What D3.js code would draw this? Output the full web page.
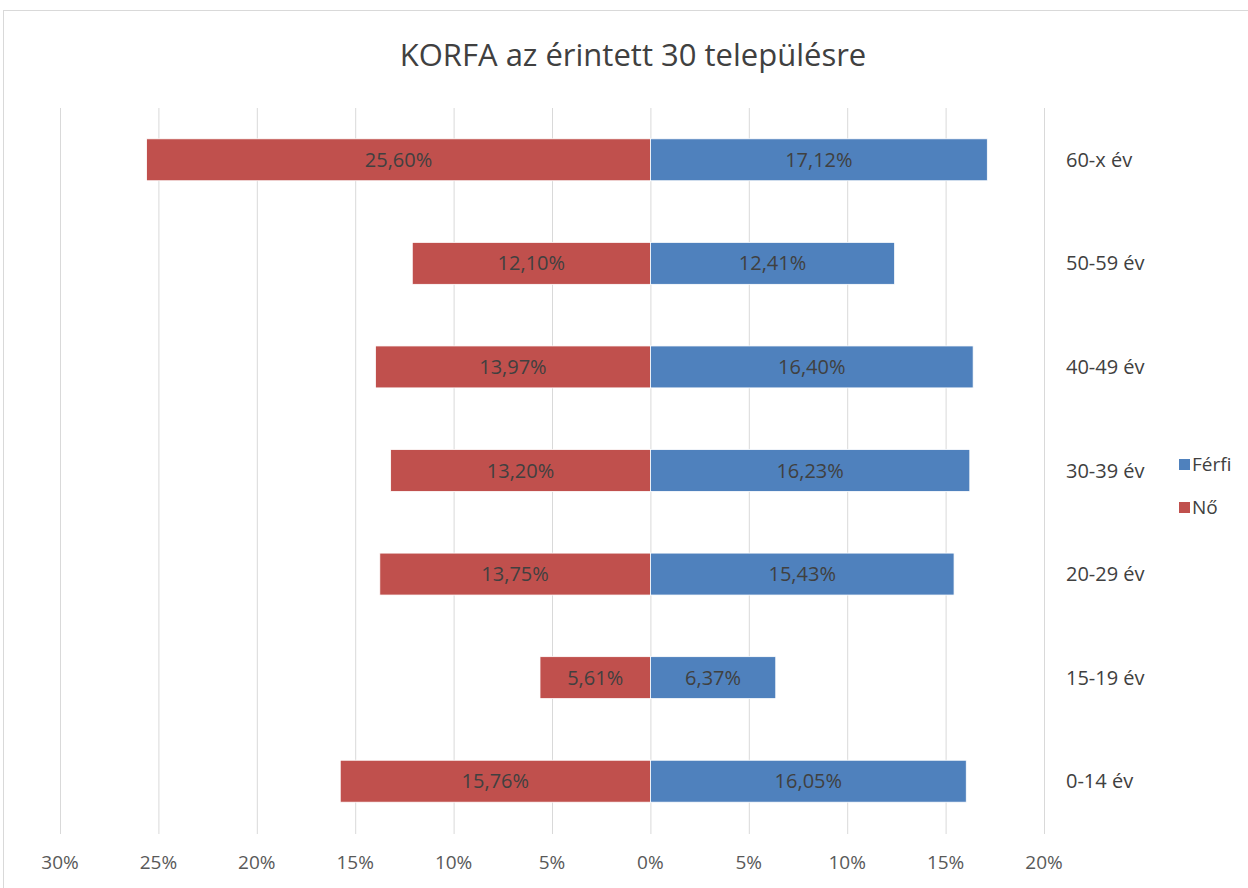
<!DOCTYPE html>
<html>
<head>
<meta charset="utf-8">
<script src="https://cdn.jsdelivr.net/npm/d3@7"></script>
<style>
    body { margin: 0; background: #fff; }
    svg { display: block; font-family: "Open Sans", "Noto Sans", sans-serif; }
</style>
</head>
<body>
<div id="chart"></div>
<script>
const categories = ["60-x év", "50-59 év", "40-49 év", "30-39 év", "20-29 év", "15-19 év", "0-14 év"];
const noValues = [25.60, 12.10, 13.97, 13.20, 13.75, 5.61, 15.76];
const ferfiValues = [17.12, 12.41, 16.40, 16.23, 15.43, 6.37, 16.05];
const tickValues = [-30, -25, -20, -15, -10, -5, 0, 5, 10, 15, 20];
const seriesNames = ["Férfi", "Nő"];

const width = 1248, height = 888;
const colors = { "Férfi": "#4F81BD", "Nő": "#C0504D" };

const svg = d3.select("#chart").append("svg")
    .attr("width", width)
    .attr("height", height);

// chart border
svg.append("rect")
    .attr("x", 3.5).attr("y", 10.5)
    .attr("width", width + 10).attr("height", height + 10)
    .attr("fill", "#fff")
    .attr("stroke", "#d9d9d9")
    .attr("stroke-width", 1);

svg.append("text")
    .attr("x", 633).attr("y", 66)
    .attr("text-anchor", "middle")
    .attr("font-size", "31px")
    .attr("fill", "#404040")
    .text("KORFA az érintett 30 településre");

const x = d3.scaleLinear().domain([-30, 20]).range([60, 1044]);
const y = d3.scaleBand().domain(categories).range([108, 833]).paddingInner(0.595).paddingOuter(0.2975);

// gridlines
svg.append("g")
    .selectAll("line")
    .data(tickValues)
    .join("line")
    .attr("x1", d => x(d) + 0.5).attr("x2", d => x(d) + 0.5)
    .attr("y1", 108).attr("y2", 834)
    .attr("stroke", "#d9d9d9")
    .attr("stroke-width", 1);

// tick labels
svg.append("g")
    .selectAll("text")
    .data(tickValues)
    .join("text")
    .attr("x", d => x(d))
    .attr("y", 869)
    .attr("text-anchor", "middle")
    .attr("font-size", "19px")
    .attr("fill", "#595959")
    .text(d => Math.abs(d) + "%");

const fmt = v => v.toFixed(2).replace(".", ",") + "%";

const rows = categories.map((c, i) => ({ cat: c, no: noValues[i], ferfi: ferfiValues[i] }));

const bars = svg.append("g");
bars.selectAll("rect.no")
    .data(rows)
    .join("rect")
    .attr("class", "no")
    .attr("x", d => x(-d.no))
    .attr("y", d => y(d.cat))
    .attr("width", d => x(0) - x(-d.no))
    .attr("height", y.bandwidth())
    .attr("fill", colors["Nő"])
    .attr("stroke", "#fff")
    .attr("stroke-width", 0.8);

bars.selectAll("rect.ferfi")
    .data(rows)
    .join("rect")
    .attr("class", "ferfi")
    .attr("x", x(0))
    .attr("y", d => y(d.cat))
    .attr("width", d => x(d.ferfi) - x(0))
    .attr("height", y.bandwidth())
    .attr("fill", colors["Férfi"])
    .attr("stroke", "#fff")
    .attr("stroke-width", 0.8);

// value labels
const labels = svg.append("g")
    .attr("font-size", "20px")
    .attr("fill", "#404040")
    .attr("text-anchor", "middle");

labels.selectAll("text.no")
    .data(rows)
    .join("text")
    .attr("x", d => (x(-d.no) + x(0)) / 2)
    .attr("y", d => y(d.cat) + y.bandwidth() / 2)
    .attr("dy", "0.35em")
    .text(d => fmt(d.no));

labels.selectAll("text.ferfi")
    .data(rows)
    .join("text")
    .attr("x", d => (x(d.ferfi) + x(0)) / 2)
    .attr("y", d => y(d.cat) + y.bandwidth() / 2)
    .attr("dy", "0.35em")
    .text(d => fmt(d.ferfi));

// category labels on the right
svg.append("g")
    .selectAll("text")
    .data(categories)
    .join("text")
    .attr("x", 1066)
    .attr("y", d => y(d) + y.bandwidth() / 2)
    .attr("dy", "0.35em")
    .attr("font-size", "20px")
    .attr("fill", "#404040")
    .text(d => d);

// legend
const legend = svg.append("g")
    .selectAll("g")
    .data(seriesNames)
    .join("g")
    .attr("transform", (d, i) => `translate(1179, ${464 + i * 43})`);

legend.append("rect")
    .attr("x", 0).attr("y", -5)
    .attr("width", 11).attr("height", 11)
    .attr("fill", d => colors[d]);

legend.append("text")
    .attr("x", 13).attr("y", 0)
    .attr("dy", "0.35em")
    .attr("font-size", "19px")
    .attr("fill", "#404040")
    .text(d => d);
</script>
</body>
</html>
